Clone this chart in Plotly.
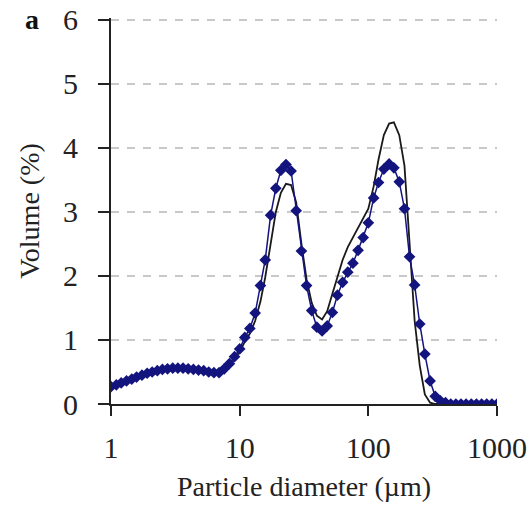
import plotly.graph_objects as go

# Particle diameters (µm), log-spaced bins, 25 per decade from 1 to 1000
diameter = [1.00, 1.10, 1.20, 1.32, 1.45, 1.58, 1.74, 1.91, 2.09, 2.29,
            2.51, 2.75, 3.02, 3.31, 3.63, 3.98, 4.37, 4.79, 5.25, 5.75,
            6.31, 6.92, 7.59, 8.32, 9.12, 10.0, 10.96, 12.0, 13.2, 14.5,
            15.8, 17.4, 19.1, 20.9, 22.9, 25.1, 27.5, 30.2, 33.1, 36.3,
            39.8, 43.7, 47.9, 52.5, 57.5, 63.1, 69.2, 75.9, 83.2, 91.2,
            100, 110, 120, 132, 145, 158, 174, 191, 209, 229,
            251, 275, 302, 331, 363, 398, 437, 479, 525, 575,
            631, 692, 759, 832, 912, 1000]

# Measured volume distribution (%), blue diamonds
volume_measured = [0.27, 0.30, 0.33, 0.36, 0.39, 0.42, 0.45, 0.48, 0.50, 0.52,
                   0.54, 0.55, 0.56, 0.56, 0.56, 0.55, 0.54, 0.53, 0.52, 0.50,
                   0.49, 0.49, 0.55, 0.63, 0.74, 0.86, 1.04, 1.18, 1.42, 1.85,
                   2.25, 2.95, 3.37, 3.65, 3.74, 3.64, 3.02, 2.39, 1.85, 1.46,
                   1.20, 1.14, 1.22, 1.43, 1.70, 1.90, 2.06, 2.20, 2.40, 2.60,
                   2.83, 3.22, 3.46, 3.67, 3.75, 3.69, 3.47, 3.05, 2.30, 1.86,
                   1.25, 0.78, 0.36, 0.12, 0.05, 0.02, 0.0, 0.0, 0.0, 0.0,
                   0.0, 0.0, 0.0, 0.0, 0.0, 0.0]

# Reference / model distribution (%), black line
volume_model = [0.27, 0.30, 0.33, 0.36, 0.39, 0.42, 0.45, 0.48, 0.50, 0.52,
                0.54, 0.55, 0.56, 0.56, 0.56, 0.55, 0.54, 0.53, 0.52, 0.50,
                0.49, 0.49, 0.54, 0.60, 0.70, 0.82, 0.97, 1.10, 1.30, 1.60,
                1.98, 2.50, 3.00, 3.30, 3.44, 3.42, 3.15, 2.50, 1.95, 1.58,
                1.38, 1.32, 1.45, 1.72, 1.98, 2.25, 2.45, 2.60, 2.75, 2.88,
                3.05, 3.40, 3.82, 4.20, 4.38, 4.40, 4.20, 3.72, 2.55, 1.30,
                0.60, 0.15, 0.02, 0.0, 0.0, 0.0, 0.0, 0.0, 0.0, 0.0,
                0.0, 0.0, 0.0, 0.0, 0.0, 0.0]

x_ticks = [1, 10, 100, 1000]
x_ticktext = ["1", "10", "100", "1000"]
y_ticks = [0, 1, 2, 3, 4, 5, 6]

serif = "Liberation Serif, Times New Roman, serif"

fig = go.Figure()
fig.add_trace(go.Scatter(
    x=diameter, y=volume_model, mode="lines",
    line=dict(color="#1a1a1a", width=1.8), showlegend=False))
fig.add_trace(go.Scatter(
    x=diameter, y=volume_measured, mode="lines+markers",
    line=dict(color="#14147f", width=1.5),
    marker=dict(symbol="diamond", size=9, color="#14147f"),
    showlegend=False))

fig.update_layout(
    width=530, height=506,
    margin=dict(l=111, r=33, t=18, b=102),
    paper_bgcolor="white", plot_bgcolor="white",
    font=dict(family=serif, size=30, color="#222"),
    xaxis=dict(
        type="log", range=[0, 3], automargin=False,
        tickvals=x_ticks, ticktext=x_ticktext,
        ticks="outside", ticklen=10, tickwidth=2, tickcolor="#222",
        showline=True, linewidth=2, linecolor="#222",
        showgrid=False, zeroline=False,
        ticklabelstandoff=6,
        title=dict(text="Particle diameter (µm)", font=dict(size=28), standoff=13),
    ),
    yaxis=dict(
        range=[0, 6.03], tickvals=y_ticks, automargin=False,
        ticks="outside", ticklen=11, tickwidth=2, tickcolor="#222",
        showline=True, linewidth=2, linecolor="#222",
        showgrid=True, gridcolor="#c8c8c8", gridwidth=1.6, griddash="8px,8px",
        zeroline=False,
        ticklabelstandoff=14,
        title=dict(text="Volume (%)", font=dict(size=28), standoff=15),
    ),
    annotations=[dict(
        text="<b>a</b>", x=-0.205, y=0.995, xref="paper", yref="paper",
        xanchor="center", yanchor="middle",
        showarrow=False, font=dict(size=28, family=serif, color="#111"))],
)

fig.write_html("out.html")
